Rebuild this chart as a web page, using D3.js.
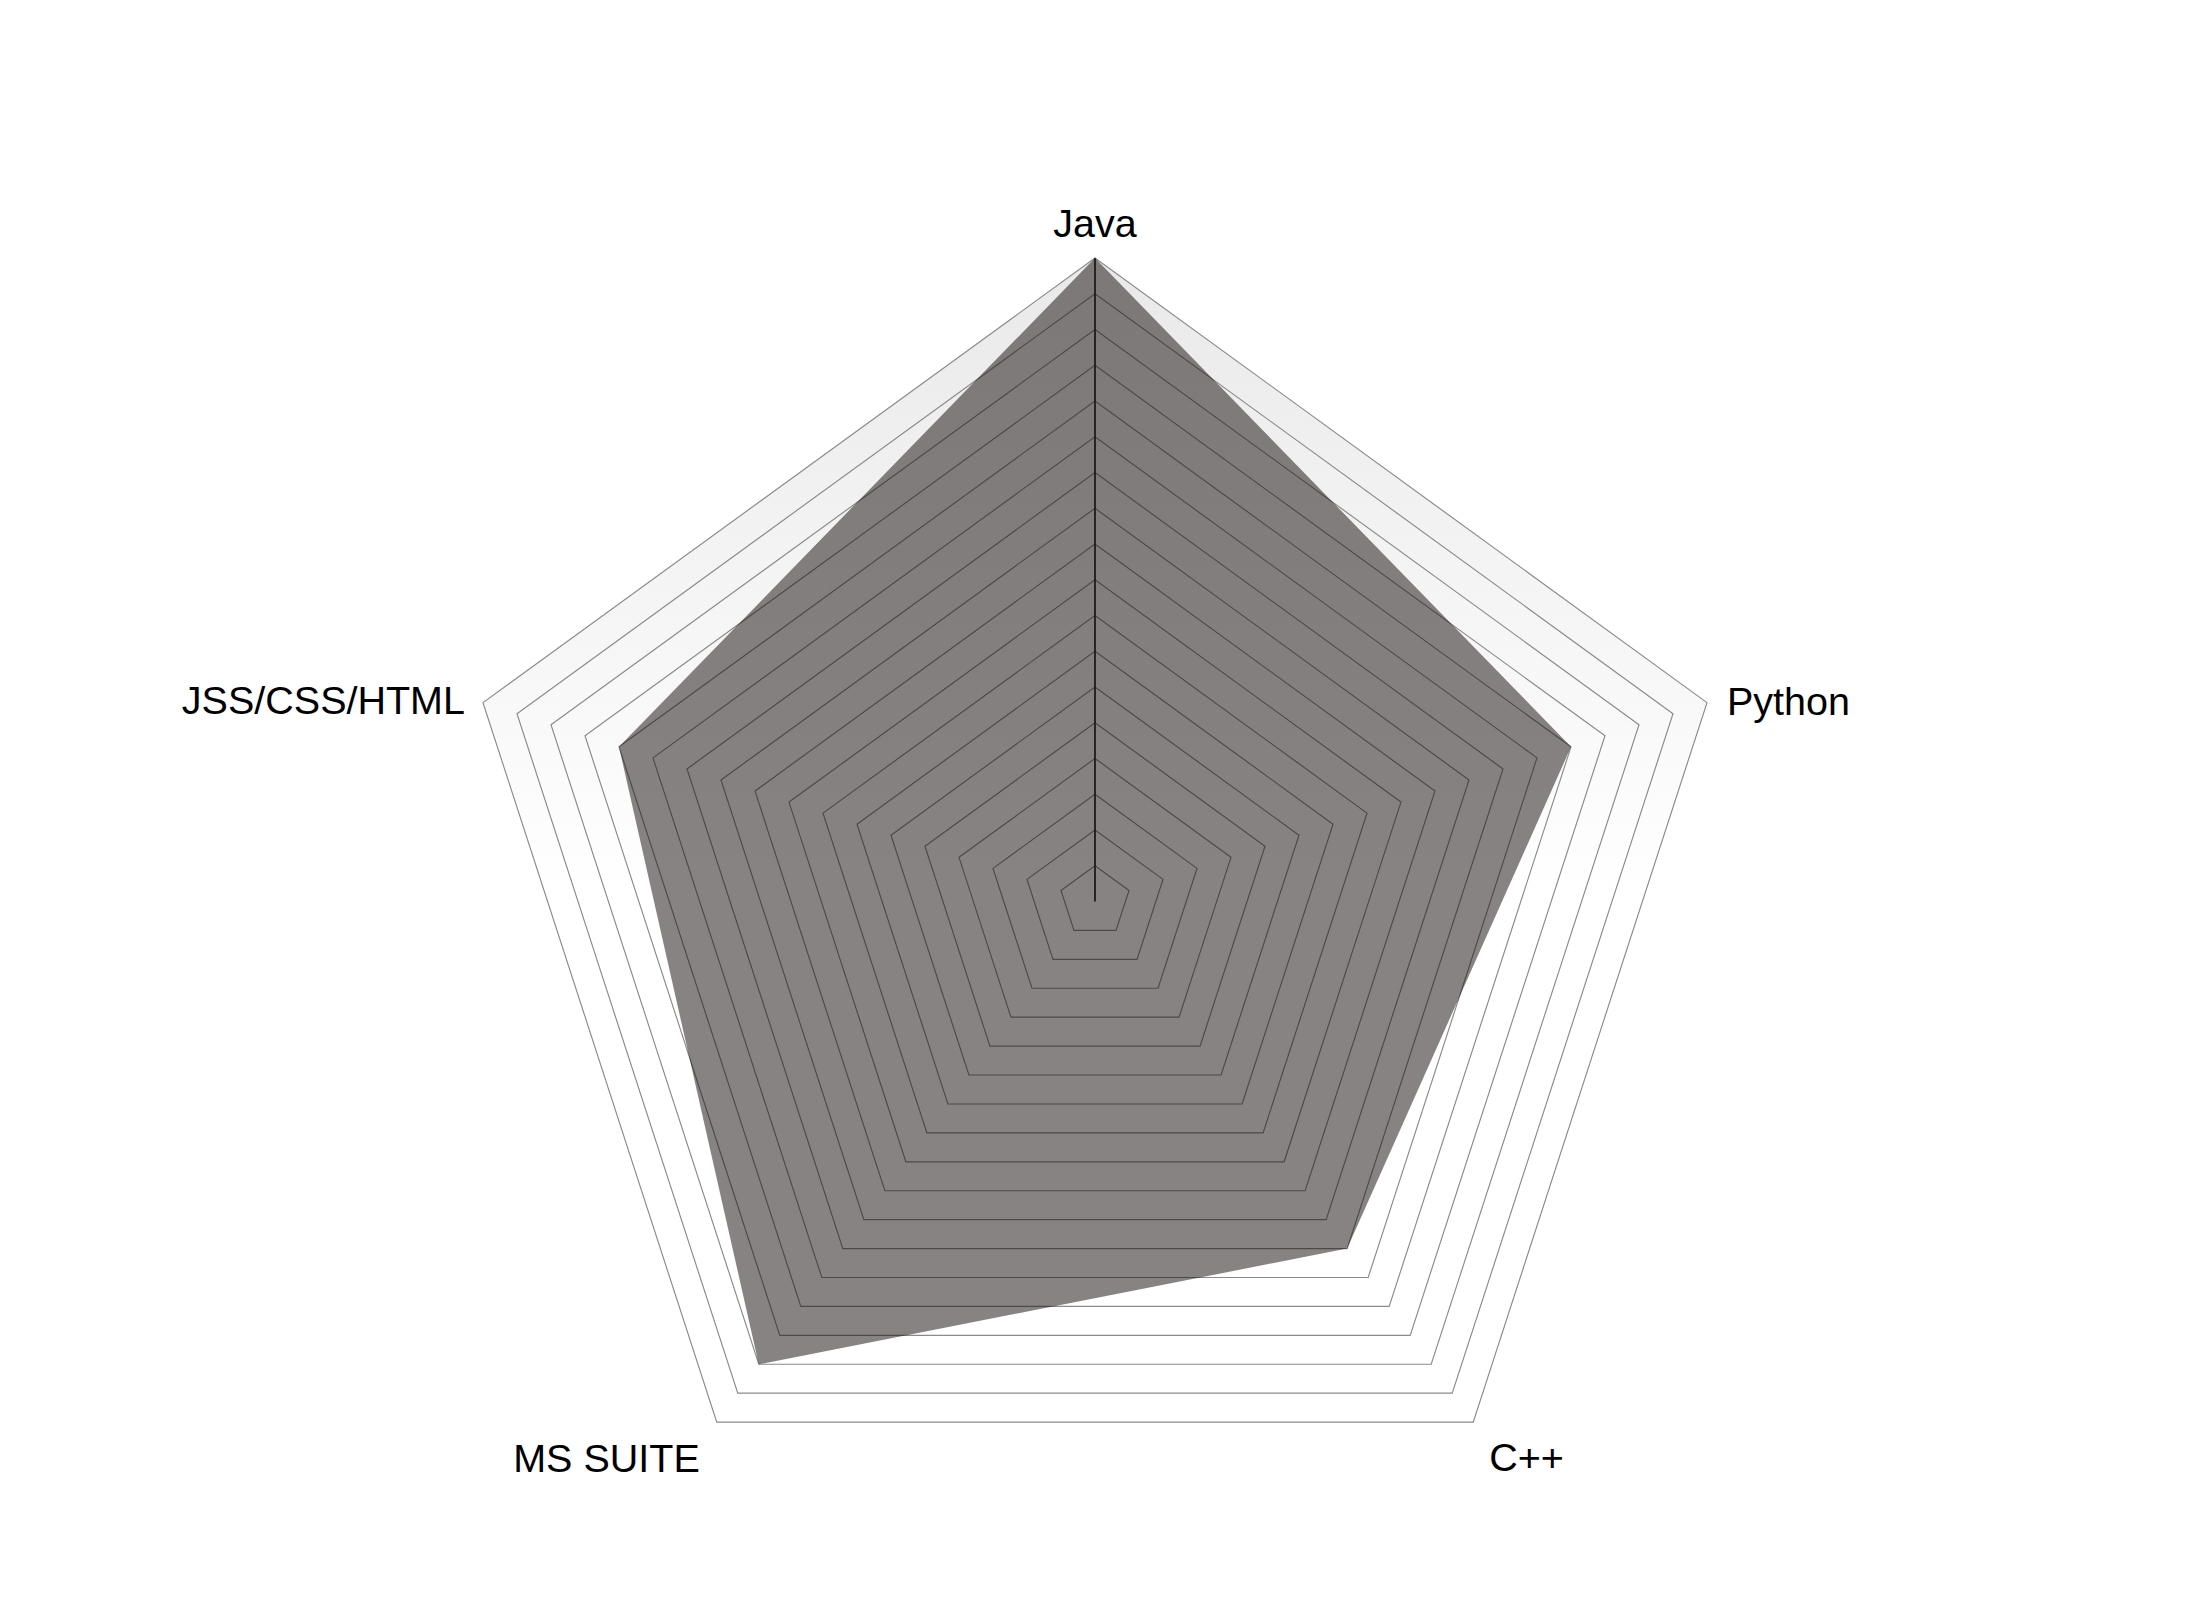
<!DOCTYPE html>
<html>
<head>
<meta charset="utf-8">
<script src="https://cdn.jsdelivr.net/npm/d3@7/dist/d3.min.js"></script>
<style>
  html, body { margin: 0; padding: 0; background: #ffffff; }
  svg { display: block; }
</style>
</head>
<body>
<div id="chart"></div>
<script>
// ---- data ----
const categories = ["Java", "Python", "C++", "MS SUITE", "JSS/CSS/HTML"];
const values = [90, 70, 60, 80, 70];
const maxValue = 90;
const levelCount = 18;

// ---- layout ----
const W = 2190, H = 1610;
const cx = 1095, cy = 901.5, R = 643.5;
const labelOffsets = [[0, -21, "middle"], [20, 12, "start"], [16, 49, "start"], [-17, 50, "end"], [-18, 11, "end"]];

const svg = d3.select("#chart").append("svg")
  .attr("width", W).attr("height", H);

const defs = svg.append("defs");
const grad = defs.append("linearGradient")
  .attr("id", "bg").attr("x1", 0).attr("y1", 0).attr("x2", 0).attr("y2", 1);
grad.append("stop").attr("offset", "0%").attr("stop-color", "#e9e9e9");
grad.append("stop").attr("offset", "55%").attr("stop-color", "#ffffff");
grad.append("stop").attr("offset", "100%").attr("stop-color", "#ffffff");

const r = d3.scaleLinear().domain([0, maxValue]).range([0, R]);
const angle = d3.scaleLinear().domain([0, categories.length]).range([0, 2 * Math.PI]);

const g = svg.append("g").attr("transform", `translate(${cx},${cy})`);

function pt(i, v) {
  const a = angle(i);
  return [r(v) * Math.sin(a), -r(v) * Math.cos(a)];
}

const line = d3.line().curve(d3.curveLinearClosed);

// background of outer pentagon
g.append("path")
  .attr("d", line(categories.map((c, i) => pt(i, maxValue))))
  .attr("fill", "url(#bg)")
  .attr("stroke", "none");

// levels
const levels = d3.range(1, levelCount + 1).map(k => k * maxValue / levelCount);
g.selectAll(".level").data(levels).enter().append("path")
  .attr("class", "level")
  .attr("d", lv => line(categories.map((c, i) => pt(i, lv))))
  .attr("fill", "none")
  .attr("stroke", "#8a8a8a")
  .attr("stroke-width", 1.15);

// Java axis line
g.append("line")
  .attr("x1", 0).attr("y1", 0)
  .attr("x2", pt(0, maxValue)[0]).attr("y2", pt(0, maxValue)[1])
  .attr("stroke", "#2e2e2e")
  .attr("stroke-width", 1.8);

// data polygon
g.append("path")
  .attr("d", line(values.map((v, i) => pt(i, v))))
  .attr("fill", "#0e0705")
  .attr("fill-opacity", 0.5)
  .attr("stroke", "none");

// labels
g.selectAll(".lbl").data(categories).enter().append("text")
  .attr("class", "lbl")
  .attr("x", (c, i) => pt(i, maxValue)[0] + labelOffsets[i][0])
  .attr("y", (c, i) => pt(i, maxValue)[1] + labelOffsets[i][1])
  .attr("text-anchor", (c, i) => labelOffsets[i][2])
  .attr("font-family", "'Liberation Sans', Arial, sans-serif")
  .attr("font-size", "39.5px")
  .attr("fill", "#000000")
  .text(c => c);
</script>
</body>
</html>
